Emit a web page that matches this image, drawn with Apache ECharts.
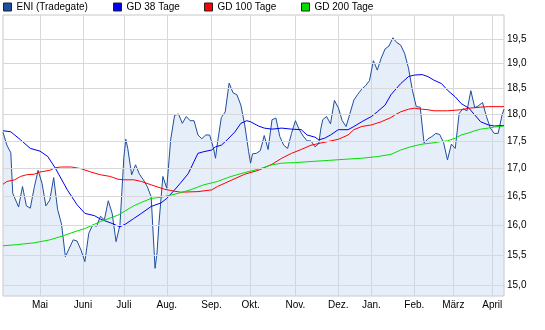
<!DOCTYPE html>
<html><head><meta charset="utf-8">
<script src="https://cdn.jsdelivr.net/npm/echarts@6/dist/echarts.min.js"></script>
<style>html,body{margin:0;padding:0;background:#fff}#c{width:545px;height:330px}</style>
</head><body><div id="c"></div>
<script>
// trading-day calendar (categories)
const startDate = '2012-04-02', endDate = '2013-04-10';
const holidays = ['2012-04-06','2012-04-09','2012-05-01','2012-12-24','2012-12-25','2012-12-26','2012-12-31','2013-01-01','2013-03-29','2013-04-01'];
const monthNames = ['Jan.','Feb.','März','April','Mai','Juni','Juli','Aug.','Sep.','Okt.','Nov.','Dez.'];
const yTicks = [15, 15.5, 16, 16.5, 17, 17.5, 18, 18.5, 19, 19.5];
const seriesNames = ['ENI (Tradegate)', 'GD 38 Tage', 'GD 100 Tage', 'GD 200 Tage'];

// [trading-day index, value]
const price = [[0,17.66],[2,17.42],[4,17.28],[5,16.55],[6,16.52],[8,16.31],[10,16.67],[12,16.33],[14,16.29],[16,16.65],[18,16.96],[20,16.73],[22,16.33],[24,16.43],[26,16.83],[28,16.27],[30,16.02],[32,15.47],[34,15.61],[36,15.75],[38,15.73],[40,15.58],[42,15.39],[44,15.86],[46,16.0],[48,15.98],[50,16.15],[52,16.09],[54,16.42],[56,16.2],[58,15.72],[60,16.0],[62,17.2],[63,17.53],[64,17.36],[66,16.88],[68,17.06],[70,16.89],[72,16.79],[74,16.67],[76,16.49],[78,15.28],[79,15.53],[80,16.03],[82,16.85],[84,16.64],[86,17.52],[88,17.98],[90,18.01],[92,17.83],[94,17.96],[96,17.88],[98,17.88],[100,17.61],[102,17.54],[104,17.61],[106,17.61],[108,17.36],[109,17.18],[110,17.46],[112,17.94],[114,18.05],[116,18.61],[118,18.42],[120,18.38],[122,18.18],[124,17.8],[126,17.3],[127,17.09],[128,17.26],[130,17.27],[132,17.32],[134,17.6],[136,17.34],[138,17.9],[140,17.93],[142,17.58],[144,17.42],[146,17.36],[148,17.64],[150,17.88],[152,17.71],[154,17.59],[156,17.5],[158,17.5],[160,17.39],[162,17.45],[163,17.72],[164,17.9],[166,17.96],[168,17.82],[170,18.27],[172,18.13],[174,17.88],[176,17.77],[178,18.02],[180,18.28],[182,18.39],[184,18.49],[186,18.56],[188,18.66],[190,19.06],[192,18.87],[194,19.11],[196,19.3],[198,19.36],[200,19.53],[202,19.43],[204,19.38],[206,19.21],[208,18.91],[210,18.47],[212,18.15],[214,18.14],[216,17.46],[218,17.54],[220,17.58],[222,17.64],[224,17.62],[226,17.47],[228,17.15],[230,17.44],[232,17.36],[234,18.02],[236,18.11],[238,18.07],[240,18.46],[242,18.13],[244,18.17],[246,18.23],[248,17.96],[250,17.74],[252,17.64],[254,17.64],[256,17.99],[257,18.1]];
const gd38 = [[0,17.69],[4,17.67],[9,17.52],[14,17.36],[19,17.31],[23,17.21],[27,16.99],[33,16.61],[38,16.35],[42,16.2],[47,16.16],[50,16.1],[55,16.04],[60,15.97],[63,16.02],[67,16.11],[71,16.2],[76,16.32],[81,16.38],[84,16.46],[88,16.61],[91,16.73],[95,16.9],[98,17.12],[100,17.27],[103,17.3],[107,17.33],[109,17.39],[112,17.42],[115,17.52],[119,17.67],[122,17.83],[125,17.88],[127,17.86],[131,17.78],[134,17.74],[138,17.72],[143,17.74],[148,17.72],[153,17.71],[156,17.61],[160,17.57],[162,17.52],[165,17.55],[168,17.61],[172,17.71],[177,17.71],[180,17.77],[184,17.86],[189,17.96],[192,18.05],[196,18.18],[199,18.38],[201,18.47],[204,18.6],[208,18.74],[211,18.77],[215,18.78],[218,18.74],[221,18.67],[225,18.6],[228,18.47],[232,18.34],[235,18.21],[239,18.12],[242,17.99],[245,17.86],[249,17.8],[252,17.78],[257,17.79]];
const gd100 = [[0,16.71],[2,16.76],[6,16.79],[9,16.85],[12,16.88],[16,16.89],[19,16.93],[24,16.96],[27,17.01],[30,17.02],[35,17.02],[40,16.99],[45,16.93],[50,16.88],[55,16.85],[59,16.8],[62,16.79],[67,16.79],[71,16.76],[76,16.7],[83,16.62],[86,16.6],[91,16.57],[100,16.58],[107,16.61],[110,16.67],[117,16.78],[124,16.89],[131,16.96],[138,17.07],[143,17.18],[148,17.27],[153,17.34],[158,17.42],[163,17.46],[167,17.49],[172,17.53],[177,17.61],[180,17.71],[184,17.77],[189,17.8],[194,17.86],[199,17.94],[201,17.99],[204,18.05],[208,18.1],[211,18.12],[215,18.1],[218,18.09],[221,18.07],[228,18.07],[235,18.09],[239,18.12],[245,18.14],[249,18.15],[257,18.15]];
const gd200 = [[0,15.65],[7,15.67],[16,15.7],[24,15.75],[31,15.82],[38,15.9],[42,15.94],[46,16.0],[50,16.06],[55,16.12],[59,16.17],[63,16.25],[67,16.33],[71,16.39],[76,16.46],[81,16.48],[90,16.55],[96,16.61],[103,16.7],[110,16.76],[117,16.85],[124,16.92],[131,16.98],[138,17.06],[143,17.09],[150,17.1],[158,17.12],[167,17.14],[175,17.16],[184,17.18],[192,17.21],[199,17.25],[204,17.33],[209,17.39],[215,17.44],[220,17.46],[225,17.49],[228,17.5],[232,17.55],[235,17.61],[239,17.65],[242,17.69],[245,17.72],[249,17.74],[252,17.76],[257,17.78]];

const FONT = '"Liberation Sans", Arial, sans-serif';
const days = [];
(function(){
  let t = new Date(startDate + 'T00:00:00Z');
  const end = new Date(endDate + 'T00:00:00Z');
  while (t <= end) {
    const s = t.toISOString().slice(0, 10);
    const wd = t.getUTCDay();
    if (wd !== 0 && wd !== 6 && holidays.indexOf(s) < 0) days.push(s);
    t = new Date(t.getTime() + 86400000);
  }
})();
const isMonthStart = i => i > 0 && days[i].slice(5, 7) !== days[i - 1].slice(5, 7);

const colors = ['#1f4f9f', '#0000ee', '#ff0000', '#00e000'];
const legendLeft = [3, 113, 204, 301];

function legendItem(k) {
  return {
    data: [seriesNames[k]], left: legendLeft[k], top: 2, padding: 0,
    itemWidth: 8, itemHeight: 8, icon: 'rect', selectedMode: false,
    itemStyle: { borderColor: '#222', borderWidth: 1 },
    textStyle: { fontSize: 10, color: '#000', fontFamily: FONT }
  };
}

const chart = echarts.init(document.getElementById('c'), null, { renderer: 'canvas' });
chart.setOption({
  animation: false,
  backgroundColor: '#fff',
  legend: [0, 1, 2, 3].map(legendItem),
  grid: { left: 3, right: 41, top: 15, bottom: 34, show: true, borderColor: '#c8c8c8', borderWidth: 1, backgroundColor: '#fff' },
  xAxis: {
    type: 'category', data: days, boundaryGap: false,
    axisLine: { show: false }, axisTick: { show: false },
    axisLabel: {
      interval: (i) => isMonthStart(i),
      formatter: (v) => monthNames[parseInt(v.slice(5, 7), 10) - 1],
      fontSize: 10, color: '#000', margin: 4, fontFamily: FONT
    },
    splitLine: { show: true, interval: (i) => isMonthStart(i), lineStyle: { color: '#d8d8d8', width: 1 } }
  },
  yAxis: {
    type: 'log', logBase: 10, min: 14.836, max: 20.01, position: 'right',
    axisLine: { show: false }, axisTick: { show: false }, axisLabel: { show: false }, splitLine: { show: false }
  },
  series: [
    {
      type: 'line', data: [], z: 1, silent: true,
      markLine: {
        silent: true, symbol: ['none', 'none'], animation: false,
        lineStyle: { color: '#d8d8d8', type: 'solid', width: 1 },
        label: { position: 'end', distance: 3, color: '#000', fontSize: 10, fontFamily: FONT,
          formatter: (p) => Number(p.value).toFixed(1).replace('.', ',') },
        emphasis: { disabled: true },
        data: yTicks.map(v => ({ yAxis: v }))
      }
    },
    {
      name: seriesNames[0], type: 'line', data: price, symbol: 'none', z: 2,
      lineStyle: { color: colors[0], width: 1 }, itemStyle: { color: colors[0] },
      areaStyle: { color: 'rgba(190,212,242,0.55)', origin: 'start' }
    },
    { name: seriesNames[1], type: 'line', data: gd38, symbol: 'none', z: 3, lineStyle: { color: colors[1], width: 1 }, itemStyle: { color: colors[1] } },
    { name: seriesNames[2], type: 'line', data: gd100, symbol: 'none', z: 3, lineStyle: { color: colors[2], width: 1 }, itemStyle: { color: colors[2] } },
    { name: seriesNames[3], type: 'line', data: gd200, symbol: 'none', z: 3, lineStyle: { color: colors[3], width: 1 }, itemStyle: { color: colors[3] } }
  ]
});
</script></body></html>
